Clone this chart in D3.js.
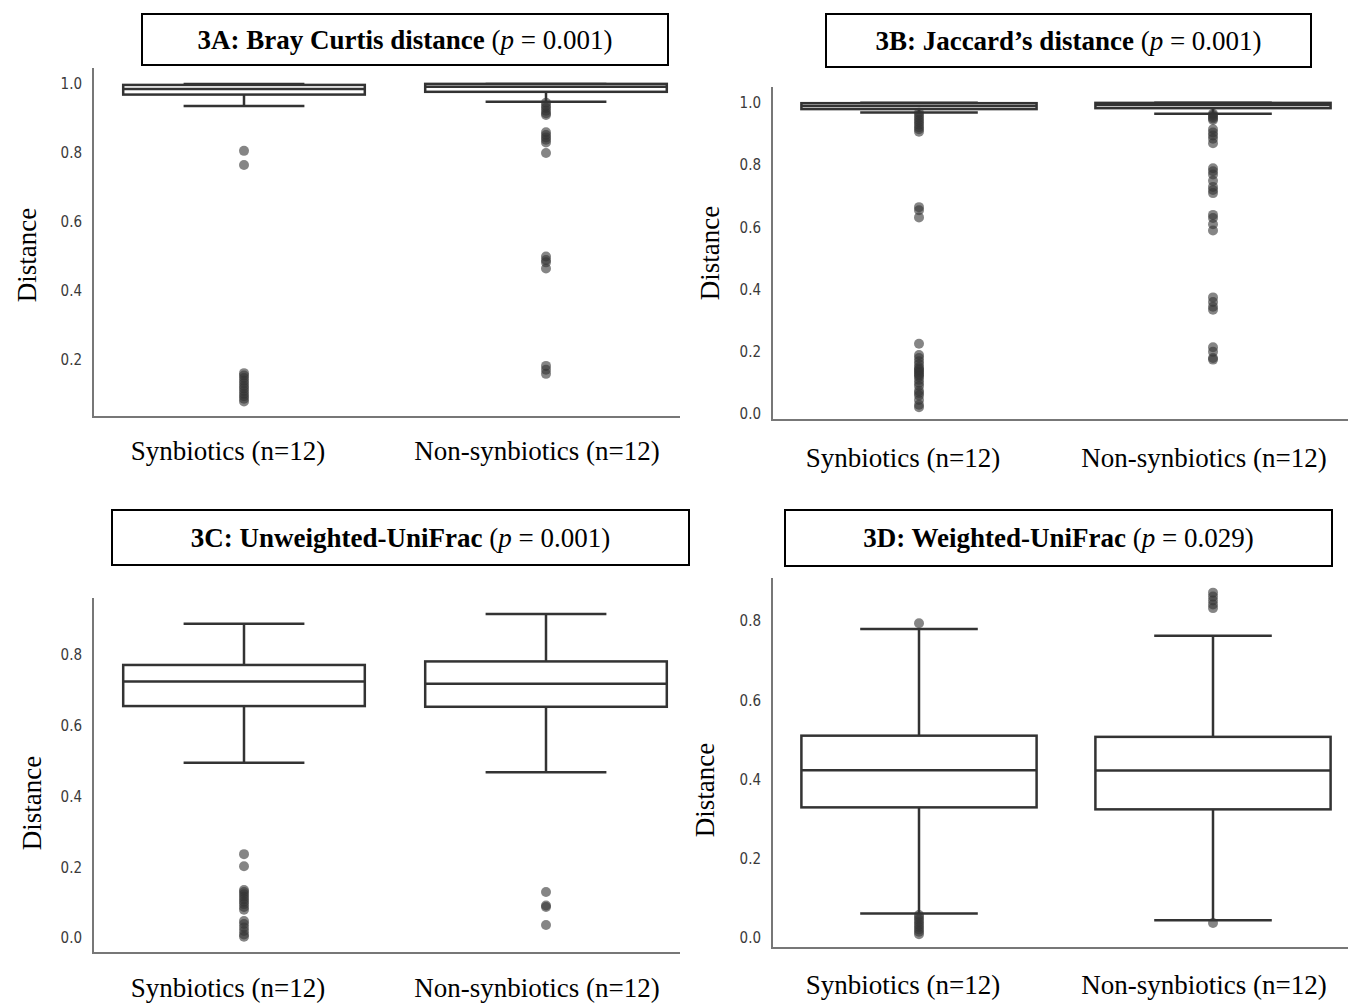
<!DOCTYPE html>
<html>
<head>
<meta charset="utf-8">
<script src="https://cdn.jsdelivr.net/npm/d3@7"></script>
<style>
  body { margin: 0; background: #fff; }
  svg { display: block; }
</style>
</head>
<body>
<div id="chart"></div>
<script>
// groups shared by every panel
const groups = ['Synbiotics (n=12)', 'Non-synbiotics (n=12)'];

// box stats per panel: [whiskerLow, q1, median, q3, whiskerHigh] for each group
const statsA = [[0.936, 0.969, 0.985, 0.997, 1.0], [0.948, 0.977, 0.992, 1.0, 1.0]];
const statsB = [[0.969, 0.980, 0.990, 0.999, 1.0], [0.965, 0.983, 0.993, 1.0, 1.0]];
const statsC = [[0.495, 0.655, 0.724, 0.771, 0.887], [0.468, 0.653, 0.718, 0.781, 0.915]];
const statsD = [[0.062, 0.330, 0.424, 0.511, 0.780], [0.045, 0.325, 0.423, 0.508, 0.763]];

// outlier points per panel, per group
const outA = [
  [0.806, 0.765, 0.162, 0.155, 0.148, 0.14, 0.133, 0.125, 0.118, 0.11, 0.102, 0.095, 0.088, 0.08],
  [0.945, 0.937, 0.93, 0.922, 0.915, 0.91, 0.86, 0.852, 0.845, 0.838, 0.83, 0.80, 0.50, 0.49, 0.483, 0.465, 0.183, 0.172, 0.16]
];
const outB = [
  [0.968, 0.96, 0.952, 0.945, 0.938, 0.93, 0.922, 0.915, 0.907, 0.665, 0.655, 0.632, 0.226, 0.19, 0.18, 0.17, 0.16,
   0.15, 0.145, 0.14, 0.135, 0.13, 0.125, 0.12, 0.11, 0.1, 0.09, 0.075, 0.068, 0.06, 0.045, 0.03, 0.022],
  [0.965, 0.96, 0.955, 0.95, 0.945, 0.915, 0.905, 0.895, 0.885, 0.87, 0.79, 0.78, 0.77, 0.75, 0.73, 0.72, 0.71,
   0.64, 0.63, 0.61, 0.59, 0.375, 0.36, 0.345, 0.335, 0.215, 0.2, 0.18, 0.175]
];
const outC = [
  [0.237, 0.203, 0.136, 0.13, 0.124, 0.117, 0.11, 0.103, 0.096, 0.088, 0.08, 0.048, 0.04, 0.03, 0.02, 0.01, 0.004],
  [0.13, 0.092, 0.088, 0.037]
];
const outD = [
  [0.795, 0.058, 0.052, 0.046, 0.04, 0.034, 0.028, 0.022, 0.016, 0.01],
  [0.872, 0.862, 0.852, 0.842, 0.833, 0.038]
];

// tick labels
const ticksA = [0.2, 0.4, 0.6, 0.8, 1.0];
const ticksB = [0.0, 0.2, 0.4, 0.6, 0.8, 1.0];
const ticksC = [0.0, 0.2, 0.4, 0.6, 0.8];
const ticksD = [0.0, 0.2, 0.4, 0.6, 0.8];

// titles: [bold part, p value]
const titleA = ['3A: Bray Curtis distance', '0.001'];
const titleB = ['3B: Jaccard\u2019s distance', '0.001'];
const titleC = ['3C: Unweighted-UniFrac', '0.001'];
const titleD = ['3D: Weighted-UniFrac', '0.029'];

const svg = d3.select('#chart').append('svg')
  .attr('width', 1348)
  .attr('height', 1005);

// layout of each panel (pixels)
const panels = [
  { stats: statsA, out: outA, ticks: ticksA, title: titleA, domain: [0.035, 1.046],
    left: 93, right: 680, bandEnd: 697, top: 68, bottom: 417,
    tbox: [142, 14, 526, 51], labelY: 460, yLabX: 36, yLabY: 255 },
  { stats: statsB, out: outB, ticks: ticksB, title: titleB, domain: [-0.019, 1.051],
    left: 772, right: 1348, bandEnd: 1360, top: 87, bottom: 420,
    tbox: [826, 14, 485, 53], labelY: 467, yLabX: 719, yLabY: 253 },
  { stats: statsC, out: outC, ticks: ticksC, title: titleC, domain: [-0.042, 0.96],
    left: 93, right: 680, bandEnd: 697, top: 598, bottom: 953,
    tbox: [112, 510, 577, 55], labelY: 997, yLabX: 41, yLabY: 803 },
  { stats: statsD, out: outD, ticks: ticksD, title: titleD, domain: [-0.025, 0.909],
    left: 772, right: 1348, bandEnd: 1360, top: 578, bottom: 948,
    tbox: [785, 510, 547, 56], labelY: 994, yLabX: 714, yLabY: 790 }
];

const boxStroke = '#333';
const serif = '"Liberation Serif", "Times New Roman", serif';

panels.forEach(p => {
  const g = svg.append('g');

  const x = d3.scaleBand()
    .domain(groups)
    .range([p.left, p.bandEnd])
    .paddingInner(0);
  const y = d3.scaleLinear()
    .domain(p.domain)
    .range([p.bottom, p.top]);

  const bw = x.bandwidth() * 0.8;
  const cx = d => x(d) + x.bandwidth() / 2;

  // axes lines (left + bottom only)
  g.append('line')
    .attr('x1', p.left).attr('x2', p.left)
    .attr('y1', p.top).attr('y2', p.bottom + 1)
    .attr('stroke', '#777').attr('stroke-width', 2);
  g.append('line')
    .attr('x1', p.left).attr('x2', p.right)
    .attr('y1', p.bottom).attr('y2', p.bottom)
    .attr('stroke', '#777').attr('stroke-width', 2);

  // y tick labels
  const yAxis = d3.axisLeft(y).tickValues(p.ticks).tickSize(0).tickPadding(11).tickFormat(d3.format('.1f'));
  const ya = g.append('g')
    .attr('transform', `translate(${p.left},0)`)
    .call(yAxis);
  ya.select('.domain').remove();
  ya.selectAll('text')
    .attr('fill', '#3a3a3a')
    .style('font-family', '"DejaVu Sans Condensed", "DejaVu Sans", sans-serif')
    .style('font-size', '15px');

  // category labels
  g.selectAll('.cat').data(groups).enter().append('text')
    .attr('x', (d, i) => cx(d) - (i === 0 ? 16 : 9))
    .attr('y', p.labelY)
    .attr('text-anchor', 'middle')
    .style('font-family', serif)
    .style('font-size', '27px')
    .text(d => d);

  // y label
  g.append('text')
    .attr('transform', `translate(${p.yLabX},${p.yLabY}) rotate(-90)`)
    .attr('text-anchor', 'middle')
    .style('font-family', serif)
    .style('font-size', '27px')
    .text('Distance');

  // boxes
  const data = groups.map((name, i) => ({ name, s: p.stats[i], out: p.out[i] }));
  const box = g.selectAll('.box').data(data).enter().append('g');

  // whiskers
  box.append('line')
    .attr('x1', d => cx(d.name)).attr('x2', d => cx(d.name))
    .attr('y1', d => y(d.s[0])).attr('y2', d => y(d.s[1]))
    .attr('stroke', boxStroke).attr('stroke-width', 2.5);
  box.append('line')
    .attr('x1', d => cx(d.name)).attr('x2', d => cx(d.name))
    .attr('y1', d => y(d.s[3])).attr('y2', d => y(d.s[4]))
    .attr('stroke', boxStroke).attr('stroke-width', 2.5);
  // caps
  [0, 4].forEach(k => {
    box.append('line')
      .attr('x1', d => cx(d.name) - bw / 4).attr('x2', d => cx(d.name) + bw / 4)
      .attr('y1', d => y(d.s[k])).attr('y2', d => y(d.s[k]))
      .attr('stroke', boxStroke).attr('stroke-width', 2.5);
  });
  // box body
  box.append('rect')
    .attr('x', d => cx(d.name) - bw / 2)
    .attr('y', d => y(d.s[3]))
    .attr('width', bw)
    .attr('height', d => y(d.s[1]) - y(d.s[3]))
    .attr('fill', '#fff')
    .attr('stroke', boxStroke).attr('stroke-width', 2.5);
  // median
  box.append('line')
    .attr('x1', d => cx(d.name) - bw / 2).attr('x2', d => cx(d.name) + bw / 2)
    .attr('y1', d => y(d.s[2])).attr('y2', d => y(d.s[2]))
    .attr('stroke', boxStroke).attr('stroke-width', 2.5);

  // outliers
  box.selectAll('circle').data(d => d.out.map(v => ({ name: d.name, v }))).enter().append('circle')
    .attr('cx', d => cx(d.name))
    .attr('cy', d => y(d.v))
    .attr('r', 5)
    .attr('fill', '#333')
    .attr('fill-opacity', 0.6);

  // title box
  const [tx, ty, tw, th] = p.tbox;
  g.append('rect')
    .attr('x', tx).attr('y', ty).attr('width', tw).attr('height', th)
    .attr('fill', '#fff').attr('stroke', '#000').attr('stroke-width', 2);
  const t = g.append('text')
    .attr('x', tx + tw / 2)
    .attr('y', ty + th / 2 + 9)
    .attr('text-anchor', 'middle')
    .style('font-family', serif)
    .style('font-size', '27px');
  t.append('tspan').attr('font-weight', 'bold').text(p.title[0] + ' ');
  t.append('tspan').text('(');
  t.append('tspan').attr('font-style', 'italic').text('p');
  t.append('tspan').text(' = ' + p.title[1] + ')');
});
</script>
</body>
</html>
